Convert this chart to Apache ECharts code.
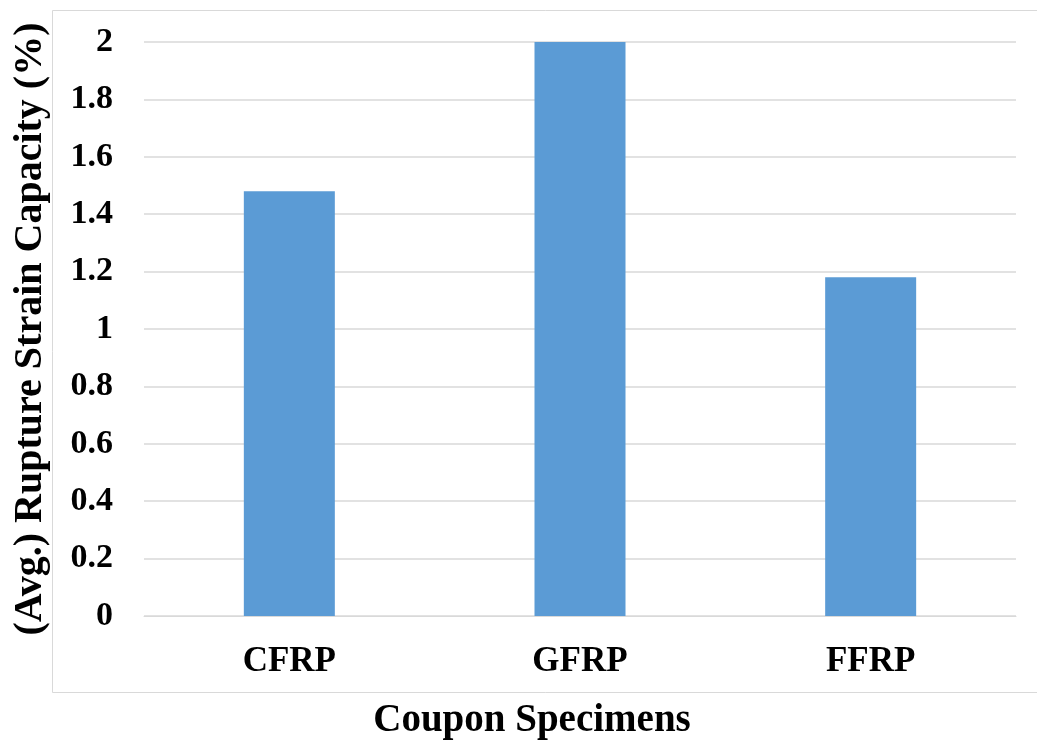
<!DOCTYPE html>
<html>
<head>
<meta charset="utf-8">
<script src="https://cdn.jsdelivr.net/npm/echarts@6/dist/echarts.min.js"></script>
<style>
html,body{margin:0;padding:0;background:#fff;}
#chart{width:1037px;height:749px;}
</style>
</head>
<body>
<div id="chart"></div>
<script>
const categories = ['CFRP', 'GFRP', 'FFRP'];
const strainValues = [1.48, 2.0, 1.18];
const yTickLabels = ['0', '0.2', '0.4', '0.6', '0.8', '1', '1.2', '1.4', '1.6', '1.8', '2'];
const xAxisTitle = 'Coupon Specimens';
const yAxisTitle = '(Avg.) Rupture Strain Capacity (%)';

const font = 'Liberation Serif';
const chart = echarts.init(document.getElementById('chart'));
chart.setOption({
  backgroundColor: '#ffffff',
  animation: false,
  graphic: [{
    type: 'rect',
    shape: {x: 52.5, y: 10.5, width: 1000, height: 682},
    style: {fill: 'none', stroke: '#d9d9d9', lineWidth: 1},
    silent: true
  }],
  grid: {left: 144, right: 21, top: 42, bottom: 133},
  xAxis: {
    type: 'category',
    data: categories,
    axisLine: {show: true, lineStyle: {color: '#d9d9d9', width: 1}},
    axisTick: {show: false},
    axisLabel: {color: '#000', fontFamily: font, fontWeight: 'bold', fontSize: 35, margin: 28},
    name: xAxisTitle,
    nameLocation: 'middle',
    nameGap: 85,
    nameTextStyle: {color: '#000', fontFamily: font, fontWeight: 'bold', fontSize: 39, padding: [0, 96, 0, 0]}
  },
  yAxis: {
    type: 'value',
    min: 0,
    max: 2,
    interval: 0.2,
    axisLine: {show: false},
    axisTick: {show: false},
    splitLine: {lineStyle: {color: '#d9d9d9', width: 1.5}},
    axisLabel: {
      color: '#000', fontFamily: font, fontWeight: 'bold', fontSize: 34, margin: 31,
      formatter: function (v) { return yTickLabels[Math.round(v / 0.2)]; }
    },
    name: yAxisTitle,
    nameLocation: 'middle',
    nameGap: 93,
    nameTextStyle: {color: '#000', fontFamily: font, fontWeight: 'bold', fontSize: 40}
  },
  series: [{
    type: 'bar',
    data: strainValues,
    barWidth: 91,
    itemStyle: {color: '#5b9bd5'}
  }]
});
</script>
</body>
</html>
